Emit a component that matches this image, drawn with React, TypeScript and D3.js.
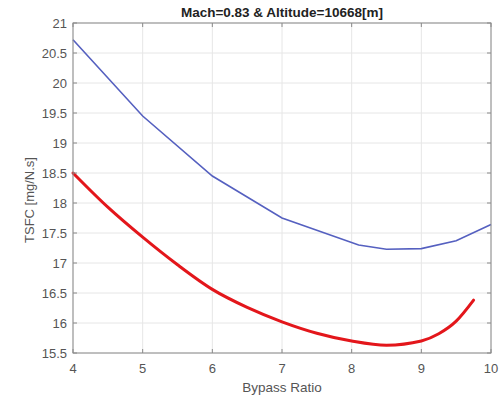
import React from "react";
import * as d3 from "d3";

const blueX = [4, 5, 6, 7, 8.1, 8.5, 9, 9.5, 10];
const blueY = [20.72, 19.45, 18.45, 17.75, 17.3, 17.23, 17.24, 17.37, 17.64];
const redX = [4, 4.5, 5, 5.5, 6, 6.5, 7, 7.5, 8, 8.5, 9, 9.25, 9.5, 9.75];
const redY = [18.5, 17.93, 17.43, 16.97, 16.56, 16.26, 16.02, 15.83, 15.7, 15.63, 15.7, 15.82, 16.03, 16.38];
const xTicks = [4, 5, 6, 7, 8, 9, 10];
const yTicks = [15.5, 16, 16.5, 17, 17.5, 18, 18.5, 19, 19.5, 20, 20.5, 21];
const title = "Mach=0.83 & Altitude=10668[m]";
const xLabel = "Bypass Ratio";
const yLabel = "TSFC [mg/N.s]";

export default function App() {
  const W = 504, H = 395;
  const L = 73, R = 491, T = 23, B = 353;
  const x = d3.scaleLinear().domain([4, 10]).range([L, R]);
  const y = d3.scaleLinear().domain([15.5, 21]).range([B, T]);
  const blue = d3.line<number>().x((_, i) => x(blueX[i])).y((d) => y(d))(blueY) || "";
  const red = d3.line<number>().curve(d3.curveMonotoneX).x((_, i) => x(redX[i])).y((d) => y(d))(redY) || "";
  const font = "Arial, 'Liberation Sans', sans-serif";
  const axisCol = "#8a8a8a";
  const txtCol = "#555";
  return (
    <svg width={W} height={H} style={{ position: "absolute", left: 0, top: 0 }}>
      <rect x={0} y={0} width={W} height={H} fill="#fff" />
      {xTicks.map((t) => (
        <line key={"gx" + t} x1={x(t)} x2={x(t)} y1={T} y2={B} stroke="#e6e6e6" strokeWidth={1} />
      ))}
      {yTicks.map((t) => (
        <line key={"gy" + t} x1={L} x2={R} y1={y(t)} y2={y(t)} stroke="#e6e6e6" strokeWidth={1} />
      ))}
      <path d={blue} fill="none" stroke="#5560c0" strokeWidth={1.6} />
      <path d={red} fill="none" stroke="#e3161b" strokeWidth={3} strokeLinecap="round" />
      <rect x={L} y={T} width={R - L} height={B - T} fill="none" stroke={axisCol} strokeWidth={1} />
      {xTicks.map((t) => (
        <g key={"tx" + t}>
          <line x1={x(t)} x2={x(t)} y1={B} y2={B - 4} stroke={axisCol} />
          <line x1={x(t)} x2={x(t)} y1={T} y2={T + 4} stroke={axisCol} />
          <text x={x(t)} y={373} textAnchor="middle" fontSize={13} fill={txtCol} fontFamily={font}>{t}</text>
        </g>
      ))}
      {yTicks.map((t) => (
        <g key={"ty" + t}>
          <line x1={L} x2={L + 4} y1={y(t)} y2={y(t)} stroke={axisCol} />
          <line x1={R} x2={R - 4} y1={y(t)} y2={y(t)} stroke={axisCol} />
          <text x={L - 6} y={y(t) + 4.5} textAnchor="end" fontSize={13} fill={txtCol} fontFamily={font}>{t}</text>
        </g>
      ))}
      <text x={(L + R) / 2} y={17} textAnchor="middle" fontSize={13.5} fontWeight="bold" fill="#222" fontFamily={font}>{title}</text>
      <text x={(L + R) / 2} y={392} textAnchor="middle" fontSize={13.5} fill={txtCol} fontFamily={font}>{xLabel}</text>
      <text transform={`translate(34, ${(T + B) / 2 + 12}) rotate(-90)`} textAnchor="middle" fontSize={13} fill={txtCol} fontFamily={font}>{yLabel}</text>
    </svg>
  );
}
